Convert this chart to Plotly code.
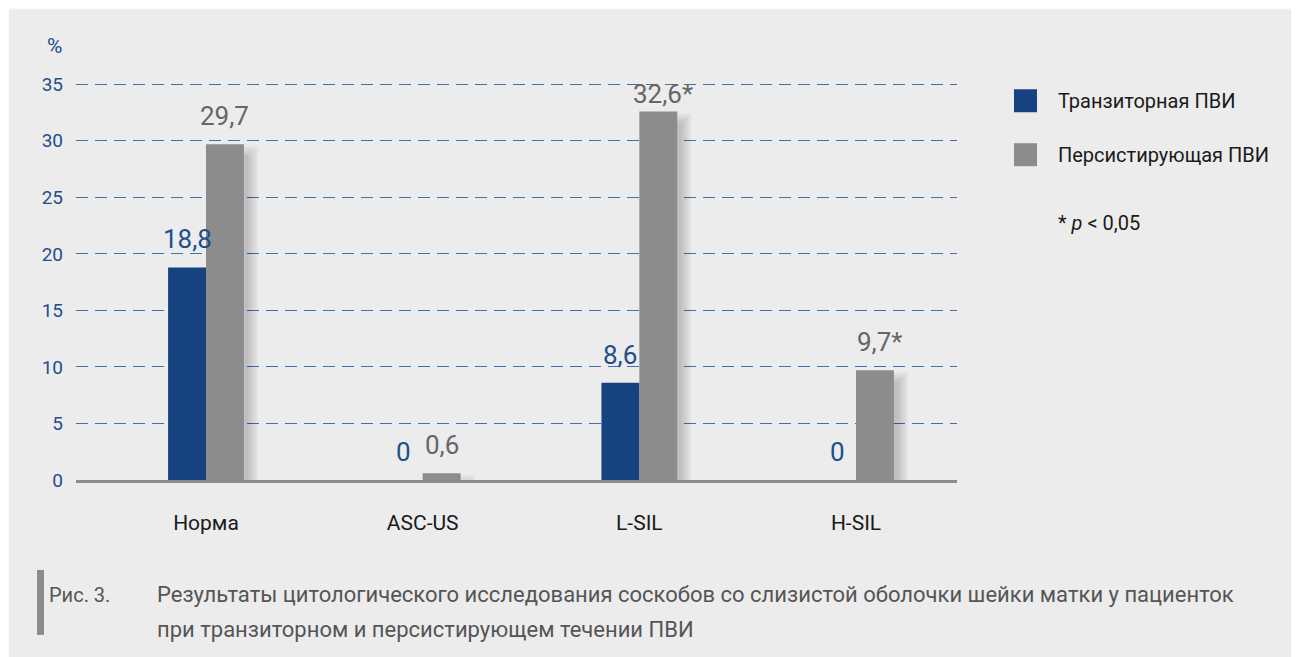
import plotly.graph_objects as go

categories = ["Норма", "ASC-US", "L-SIL", "H-SIL"]
transient = [18.8, 0, 8.6, 0]
persistent = [29.7, 0.6, 32.6, 9.7]
transient_labels = ["18,8", "0", "8,6", "0"]
persistent_labels = ["29,7", "0,6", "32,6*", "9,7*"]
y_ticks = [0, 5, 10, 15, 20, 25, 30, 35]
series_names = ["Транзиторная ПВИ", "Персистирующая ПВИ"]

OFF = 8  # default page body margin
W, H = 1299 - OFF, 657 - OFF
# plot area in reference (viewport) pixels
RL, RR, R0, R35 = 76, 957, 480, 84
XR = [-0.6, 3.466]
YR = [0, 35.2]
yu = (R0 - R35) / 35.0
RT = R0 - YR[1] * yu
L, R, T, B = RL - OFF, RR - OFF, RT - OFF, R0 - OFF

FONT = "Roboto, Liberation Sans, Arial, sans-serif"
BLUE = "#16427f"
GRAY = "#8c8c8c"
BLUE_TXT = "#1f4e8c"
GRAY_TXT = "#666666"
BG = "#ececec"

def px2x(px):
    return (px - RL) / (RR - RL)

def py2y(py):
    return (R0 - py) / (R0 - RT)

xu = (RR - RL) / (XR[1] - XR[0])  # px per category unit
bw = 0.175

fig = go.Figure()
fig.add_trace(go.Bar(x=categories, y=transient, name=series_names[0],
                     marker=dict(color=BLUE, line=dict(width=0)), showlegend=False))
fig.add_trace(go.Bar(x=categories, y=persistent, name=series_names[1],
                     marker=dict(color=GRAY, line=dict(width=0)), showlegend=False))

shapes = []
# thin white strip (the rest of the border is the page margin)
shapes.append(dict(type="rect", xref="paper", yref="paper", layer="below",
                   x0=px2x(OFF), x1=px2x(1299), y0=py2y(9), y1=py2y(OFF),
                   fillcolor="white", line=dict(width=0)))
shapes.append(dict(type="rect", xref="paper", yref="paper", layer="below",
                   x0=px2x(OFF), x1=px2x(9), y0=py2y(657), y1=py2y(OFF),
                   fillcolor="white", line=dict(width=0)))

# soft drop shadows derived from bar values
for i, (vt, vp) in enumerate(zip(transient, persistent)):
    for offs, val in ((-bw / 2, vt), (bw / 2, vp)):
        if val <= 0:
            continue
        for k in range(1, 6):
            e = 2.4 * k
            shapes.append(dict(
                type="rect", xref="x", yref="y", layer="between",
                x0=i + offs - bw / 2 + (6 - e * 0.4) / xu,
                x1=i + offs + bw / 2 + (2 + e) / xu,
                y0=-(2 + e) / yu,
                y1=max(val - (14 - e) / yu, -(2 + e) / yu + 0.01),
                fillcolor="rgba(0,0,0,0.038)", line=dict(width=0)))

# caption bar
shapes.append(dict(type="rect", xref="paper", yref="paper",
                   x0=px2x(37), x1=px2x(44), y0=py2y(635), y1=py2y(570),
                   fillcolor=GRAY, line=dict(width=0)))

# legend squares
for j, col in enumerate([BLUE, GRAY]):
    cy = 100.5 + 54 * j
    shapes.append(dict(type="rect", xref="paper", yref="paper",
                       x0=px2x(1014), x1=px2x(1037), y0=py2y(cy + 11.5), y1=py2y(cy - 11.5),
                       fillcolor=col, line=dict(width=0)))

def label_shift(v):
    # labels near the top of the axis sit closer to their bar
    return 0 if v > 31 else 11

annotations = []
for i in range(len(categories)):
    annotations.append(dict(x=i - bw / 2, y=transient[i], xref="x", yref="y",
                            text=transient_labels[i], showarrow=False, yanchor="bottom",
                            xanchor="center", yshift=label_shift(transient[i]),
                            font=dict(family=FONT, size=26, color=BLUE_TXT)))
    lab = persistent_labels[i]
    xs = 5 if lab.endswith("*") else 0
    annotations.append(dict(x=i + bw / 2, y=persistent[i], xref="x", yref="y",
                            text=lab, showarrow=False, yanchor="bottom", xanchor="center",
                            xshift=xs, yshift=label_shift(persistent[i]),
                            font=dict(family=FONT, size=26, color=GRAY_TXT)))

def paper_text(px, py, text, size, color, xanchor="left"):
    annotations.append(dict(x=px2x(px), y=py2y(py), xref="paper", yref="paper",
                            text=text, showarrow=False, xanchor=xanchor, yanchor="middle",
                            font=dict(family=FONT, size=size, color=color)))

paper_text(54, 46, "%", 21, BLUE_TXT, xanchor="center")
for j, name in enumerate(series_names):
    paper_text(1056, 100.5 + 54 * j, name, 20, "#1a1a1a")
paper_text(1056, 223, "* <i>p</i> &lt; 0,05", 20, "#1a1a1a")
paper_text(47, 595, "Рис. 3.", 20, "#555555")
paper_text(155, 595, "Результаты цитологического исследования соскобов со слизистой оболочки шейки матки у пациенток", 22, "#555555")
paper_text(155, 630, "при транзиторном и персистирующем течении ПВИ", 22, "#555555")

fig.update_layout(
    width=W, height=H,
    margin=dict(l=L, r=W - R, t=T, b=H - B, pad=0),
    paper_bgcolor=BG, plot_bgcolor=BG,
    barmode="group", bargap=0.65, bargroupgap=0,
    shapes=shapes, annotations=annotations,
    font=dict(family=FONT),
    xaxis=dict(range=XR, showgrid=False, zeroline=False, showline=True,
               linecolor=GRAY, linewidth=3, ticks="",
               tickfont=dict(family=FONT, size=21, color="#1a1a1a"),
               ticklabelstandoff=22, fixedrange=True),
    yaxis=dict(range=YR, tickvals=y_ticks, showgrid=True, gridcolor="#3d72b0",
               gridwidth=1.3, griddash="12px,7px", zeroline=False, showline=False,
               ticks="", tickfont=dict(family=FONT, size=19, color=BLUE_TXT),
               ticklabelstandoff=12, fixedrange=True),
)

fig.write_html("out.html")
